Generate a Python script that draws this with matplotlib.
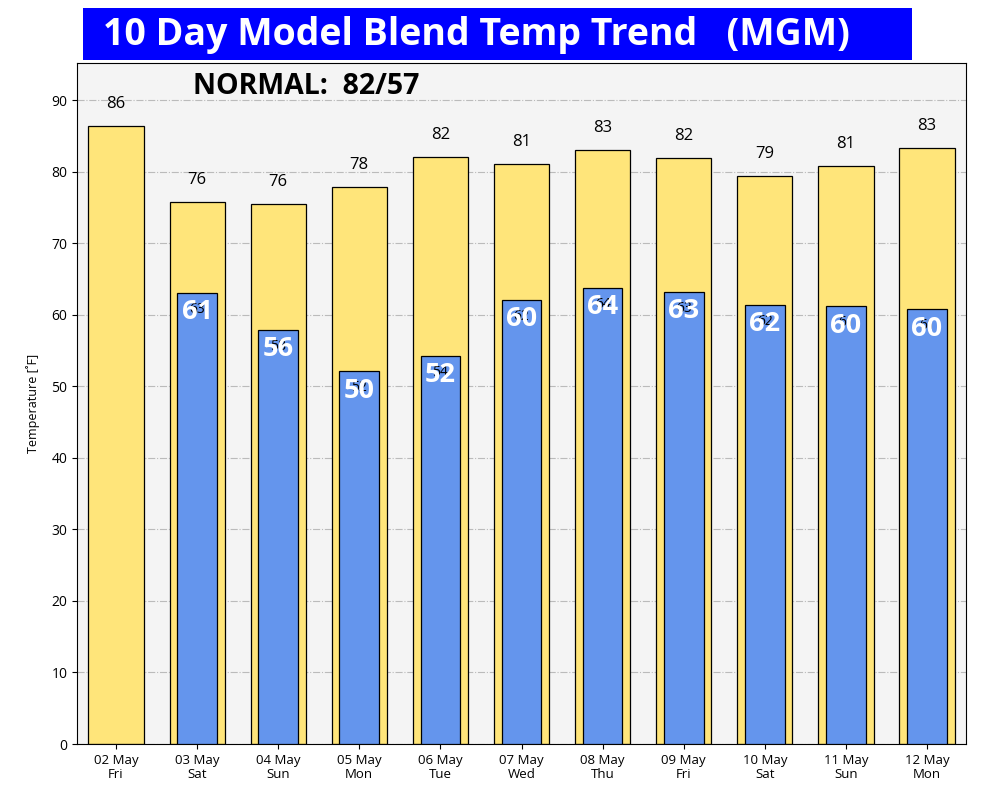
import matplotlib
matplotlib.use("Agg")
import matplotlib.pyplot as plt
from matplotlib.patches import Rectangle
import numpy as np

plt.rcParams['font.family'] = ['Open Sans', 'DejaVu Sans']

# dates along the bottom
days = ['02 May\nFri', '03 May\nSat', '04 May\nSun', '05 May\nMon', '06 May\nTue',
        '07 May\nWed', '08 May\nThu', '09 May\nFri', '10 May\nSat', '11 May\nSun',
        '12 May\nMon']

# highs (bar heights) and the labels printed over them
highs = [86.4, 75.8, 75.5, 77.9, 82.1, 81.1, 83.0, 81.9, 79.4, 80.8, 83.3]
high_labels = ['86', '76', '76', '78', '82', '81', '83', '82', '79', '81', '83']

# lows: no low for the first day
lows = [np.nan, 63.1, 57.9, 52.1, 54.3, 62.1, 63.8, 63.2, 61.4, 61.2, 60.8]
low_small = ['', '63', '58', '52', '54', '62', '64', '63', '62', '61', '61']
low_labels = ['', '61', '56', '50', '52', '60', '64', '63', '62', '60', '60']

normal_text = 'NORMAL:  82/57'
title_text = '10 Day Model Blend Temp Trend   (MGM)'

fig = plt.figure(figsize=(9.84, 8.08), dpi=100)
ax = fig.add_axes([0.0783, 0.0792, 0.9034, 0.8428])
ax.set_facecolor('#f4f4f4')

x = np.arange(len(days))
ax.bar(x, highs, width=0.68, color='#ffe57a', edgecolor='black', linewidth=0.9, zorder=2)
ax.bar(x, lows, width=0.49, color='#6495ed', edgecolor='black', linewidth=0.9, zorder=3)

for i in range(len(days)):
    ax.annotate(high_labels[i], (x[i], highs[i]), xytext=(0, 10), textcoords='offset points',
                ha='center', va='bottom', fontsize=12, zorder=4)
    if low_labels[i]:
        ax.annotate(low_small[i], (x[i], lows[i]), xytext=(0, -12), textcoords='offset points',
                    ha='center', va='center', fontsize=10, zorder=4)
        ax.annotate(low_labels[i], (x[i], lows[i]), xytext=(0, -14), textcoords='offset points',
                    ha='center', va='center', fontsize=19.5, fontweight='bold',
                    color='white', zorder=5)

ax.set_xlim(-0.48, 10.48)
ax.set_ylim(0, 95.2)
ax.set_yticks(np.arange(0, 91, 10))
ax.set_xticks(x)
ax.set_xticklabels(days, fontsize=9.5, linespacing=1.1)
ax.tick_params(axis='y', labelsize=10)
ax.set_ylabel('Temperature [˚F]', fontsize=9, labelpad=8)
ax.grid(axis='y', color='#bbbbbb', linestyle='-.', linewidth=0.8, zorder=0)
ax.set_axisbelow(True)

ax.text(0.1305, 0.965, normal_text, transform=ax.transAxes, fontsize=20.5,
        fontweight='bold', va='center', ha='left')

# blue title box
fig.patches.append(Rectangle((0.0843, 0.9257), 0.8425, 0.0643, transform=fig.transFigure,
                             facecolor='#0000ff', edgecolor='none', zorder=0))
fig.text(0.105, 0.957, title_text, color='white', fontsize=27, fontweight='bold',
         va='center', ha='left')

fig.savefig('out.png', dpi=100)
